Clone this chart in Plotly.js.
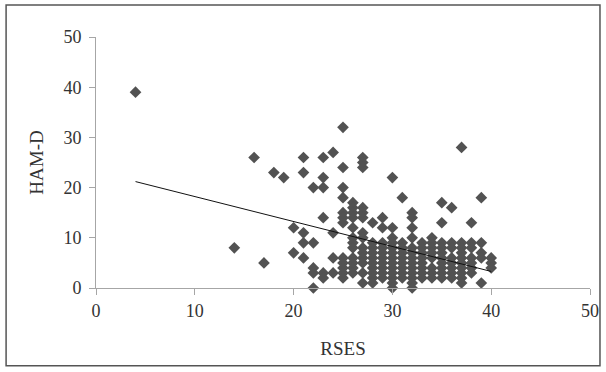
<!DOCTYPE html>
<html>
<head>
<meta charset="utf-8">
<script src="https://cdn.plot.ly/plotly-3.0.1.min.js"></script>
<style>
html,body{margin:0;padding:0;background:#fff;}
#chart{width:606px;height:372px;}
</style>
</head>
<body>
<div id="chart"></div>
<script>
// RSES (x) and HAM-D (y) values
var rses = [
  4, 14, 16, 17, 18, 19,
  20, 20,
  21, 21, 21, 21, 21,
  22, 22, 22, 22, 22,
  23, 23, 23, 23, 23, 23,
  24, 24, 24, 24,
  25, 25, 25, 25, 25, 25, 25, 25, 25, 25, 25, 25,
  26, 26, 26, 26, 26, 26, 26, 26, 26, 26, 26, 26,
  27, 27, 27, 27, 27, 27, 27, 27, 27, 27, 27, 27, 27, 27,
  28, 28, 28, 28, 28, 28, 28, 28, 28, 28,
  29, 29, 29, 29, 29, 29, 29, 29, 29, 29,
  30, 30, 30, 30, 30, 30, 30, 30, 30, 30, 30, 30, 30,
  31, 31, 31, 31, 31, 31, 31, 31, 31,
  32, 32, 32, 32, 32, 32, 32, 32, 32, 32, 32, 32, 32,
  33, 33, 33, 33, 33, 33, 33, 33,
  34, 34, 34, 34, 34, 34, 34, 34,
  35, 35, 35, 35, 35, 35, 35, 35, 35, 35,
  36, 36, 36, 36, 36, 36, 36, 36,
  37, 37, 37, 37, 37, 37, 37, 37, 37, 37,
  38, 38, 38, 38, 38, 38, 38,
  39, 39, 39, 39, 39,
  40, 40, 40
];
var hamd = [
  39, 8, 26, 5, 23, 22,
  12, 7,
  26, 23, 11, 9, 6,
  20, 9, 4, 3, 0,
  26, 22, 20, 14, 3, 2,
  27, 11, 6, 3,
  32, 24, 20, 18, 15, 14, 13, 6, 5, 4, 3, 2,
  17, 16, 15, 14, 12, 10, 9, 8, 6, 5, 4, 3,
  26, 25, 24, 16, 15, 14, 11, 10, 8, 7, 6, 5, 3, 1,
  13, 9, 8, 7, 6, 5, 4, 3, 2, 1,
  14, 12, 9, 8, 7, 6, 5, 4, 3, 2,
  22, 12, 10, 9, 8, 7, 6, 5, 4, 3, 2, 1, 0,
  18, 9, 8, 7, 6, 5, 4, 3, 2,
  15, 14, 12, 10, 8, 7, 6, 5, 4, 3, 2, 1, 0,
  9, 8, 7, 6, 5, 4, 3, 2,
  10, 9, 8, 7, 6, 4, 3, 2,
  17, 13, 9, 8, 7, 6, 5, 4, 3, 2,
  16, 9, 8, 6, 5, 4, 3, 2,
  28, 9, 8, 7, 6, 5, 4, 3, 2, 1,
  13, 9, 8, 6, 5, 4, 3,
  18, 9, 7, 6, 1,
  6, 5, 4
];
// regression line end points
var trendX = [4, 40];
var trendY = [21.2, 3.3];

var xTicks = [0, 10, 20, 30, 40, 50];
var yTicks = [0, 10, 20, 30, 40, 50];

var fontFam = '"Liberation Serif", "DejaVu Serif", serif';

var traces = [
  {
    type: 'scatter', mode: 'markers', x: rses, y: hamd,
    marker: {symbol: 'diamond', size: 9, color: '#525252', line: {width: 0}},
    cliponaxis: false, hoverinfo: 'none', showlegend: false
  },
  {
    type: 'scatter', mode: 'lines', x: trendX, y: trendY,
    line: {color: '#111111', width: 1},
    hoverinfo: 'none', showlegend: false
  }
];

var axisCommon = {
  showgrid: false, zeroline: false, showline: true,
  linecolor: '#a6a6a6', linewidth: 1,
  ticks: 'outside', ticklen: 6, tickcolor: '#a6a6a6', tickwidth: 1,
  tickfont: {family: fontFam, size: 18, color: '#333333'}
};

var layout = {
  width: 606, height: 372,
  margin: {l: 96, r: 16, t: 37, b: 84},
  paper_bgcolor: '#ffffff', plot_bgcolor: '#ffffff',
  font: {family: fontFam, color: '#333333'},
  xaxis: Object.assign({}, axisCommon, {
    range: [0, 50], tickvals: xTicks, ticktext: xTicks.map(String),
    title: {text: 'RSES', font: {family: fontFam, size: 19, color: '#333333'}, standoff: 22}
  }),
  yaxis: Object.assign({}, axisCommon, {
    range: [0, 50], tickvals: yTicks, ticktext: yTicks.map(String),
    ticklabelstandoff: 4,
    title: {text: 'HAM-D', font: {family: fontFam, size: 19, color: '#333333'}, standoff: 14}
  }),
  shapes: [{
    type: 'rect', xref: 'paper', yref: 'paper',
    x0: -0.182, x1: 1.0202, y0: -0.31, y1: 1.1275,
    line: {color: '#555555', width: 1.5}, fillcolor: 'rgba(0,0,0,0)', layer: 'below'
  }]
};

Plotly.newPlot('chart', traces, layout, {staticPlot: true, displayModeBar: false});
</script>
</body>
</html>
